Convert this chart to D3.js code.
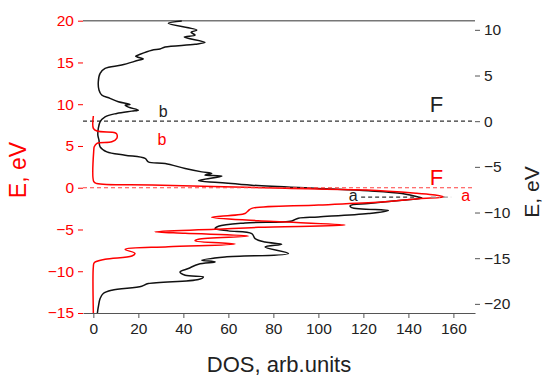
<!DOCTYPE html>
<html>
<head>
<meta charset="utf-8">
<script src="https://cdn.jsdelivr.net/npm/d3@7"></script>
<style>
  body { margin: 0; background: #fff; }
  svg { font-family: "Liberation Sans", Arial, sans-serif; }
</style>
</head>
<body>
<div id="main"></div>
<script>
// DOS curves, pairs of [E, DOS]
// red curve uses the left E axis, black curve the right E axis
const redCurve = [
  [8.59, 0], [7.11, 0], [6.79, 1.6], [6.59, 9.6], [6.43, 10.4], [5.92, 10.4], [5.51, 8.2],
  [5.32, 1.6], [4.91, 0.4], [4.51, 0.2], [0.72, 0.2], [0.50, 1.5], [0.32, 26.0], [-0.07, 85.2],
  [-0.28, 121.5], [-0.67, 143.7], [-0.87, 151.9], [-1.11, 155.9], [-1.32, 144.4], [-1.68, 129.6],
  [-2.07, 100], [-2.47, 70.4], [-2.73, 68.9], [-3.09, 67.4], [-3.54, 52.6], [-3.95, 73.3],
  [-4.47, 111.9], [-4.74, 73.3], [-4.98, 54.1], [-5.27, 27.4], [-5.46, 40.8], [-5.78, 68.9],
  [-6.18, 46.7], [-6.35, 45.2], [-6.74, 63.0], [-7.07, 33.3], [-7.38, 14.1], [-7.86, 18.5],
  [-8.18, 17.1], [-8.57, 5.2], [-8.98, 0.4], [-9.46, 0], [-15, 0]
];

const blackCurve = [
  [10.97, 39.3], [10.72, 33.3], [9.98, 46.0], [9.73, 43.4], [9.43, 45.2], [9.21, 40.4],
  [8.63, 49.6], [8.41, 45.2], [8.12, 31.9], [7.90, 29.6], [7.76, 26.0], [7.32, 20.8],
  [7.10, 18.8], [6.80, 22.2], [6.66, 20.0], [6.15, 12.6], [5.78, 5.2], [5.24, 3.0],
  [4.32, 2.2], [3.41, 2.5], [2.86, 3.7], [2.50, 7.4], [2.12, 11.1], [1.84, 16.3], [1.76, 14.1],
  [1.54, 15.6], [1.21, 20.0], [1.10, 17.1], [0.85, 10.4], [0.48, 5.2], [-0.07, 3.0],
  [-0.79, 2.2], [-1.53, 2.0], [-2.07, 2.5], [-2.81, 3.0], [-3.36, 6.0], [-3.72, 14.1],
  [-4.08, 23.0], [-4.45, 24.4], [-4.63, 31.9], [-5.18, 40.8], [-5.55, 48.2], [-5.72, 52.6],
  [-5.91, 49.6], [-6.02, 57.1], [-6.53, 46.7], [-6.71, 55.6], [-7.01, 70.4], [-7.37, 100],
  [-7.63, 122.2], [-7.92, 137.1], [-8.29, 144.4], [-8.43, 146.1], [-8.65, 137.1], [-9.01, 122.2],
  [-9.25, 114.1], [-9.47, 114.8], [-9.78, 131.1], [-10.11, 122.2], [-10.48, 100], [-10.62, 91.1],
  [-10.92, 88.2], [-11.14, 67.4], [-11.50, 55.6], [-11.75, 54.1], [-12.01, 60.0], [-12.30, 70.4],
  [-12.85, 71.9], [-13.22, 76.3], [-13.47, 83.7], [-13.77, 76.3], [-14.49, 86.7], [-14.86, 58.5],
  [-15.22, 48.2], [-15.41, 54.1], [-15.66, 46.7], [-16.13, 42.2], [-16.51, 38.5], [-16.87, 40.8],
  [-17.05, 48.9], [-17.34, 46.7], [-17.78, 24.4], [-18.07, 21.5], [-18.51, 8.2], [-18.87, 4.4],
  [-19.42, 3.0], [-20.34, 2.2], [-21.0, 1.8]
];

const dosTicks = [0, 20, 40, 60, 80, 100, 120, 140, 160];
const leftTicks = [-15, -10, -5, 0, 5, 10, 15, 20];
const rightTicks = [-20, -15, -10, -5, 0, 5, 10];

const W = 550, H = 382;
const plot = { left: 83, right: 475, top: 20.7, bottom: 313 };
const RED = "#ff0000";
const DARK = "#222";
const AXIS = "#555";

const svg = d3.select("#main").append("svg").attr("width", W).attr("height", H);

const x = d3.scaleLinear().domain([-4.6, 169.6]).range([plot.left, plot.right]);
const yL = d3.scaleLinear().domain([-15, 20]).range([plot.bottom, plot.top]);
const yR = d3.scaleLinear().domain([-21, 11]).range([plot.bottom, plot.top]);

// top frame line
svg.append("line")
  .attr("x1", plot.left).attr("x2", plot.right)
  .attr("y1", plot.top).attr("y2", plot.top)
  .attr("stroke", "#777").attr("stroke-width", 1.4);

function styleAxis(g, color) {
  g.select(".domain").attr("stroke", color).attr("stroke-width", 1.2);
  g.selectAll(".tick line").attr("stroke", color).attr("stroke-width", 1);
  g.selectAll(".tick text").attr("fill", color).style("font-size", "15.5px");
}

// bottom axis
const gx = svg.append("g").attr("transform", `translate(0,${plot.bottom})`);
gx.call(d3.axisBottom(x).tickValues(d3.range(10, 170, 20)).tickSize(3).tickFormat(""));
gx.call(d3.axisBottom(x).tickValues(dosTicks).tickSize(5).tickPadding(5).tickSizeOuter(0));
styleAxis(gx, AXIS);
gx.selectAll(".tick text").attr("fill", DARK);

// left axis (red)
const gl = svg.append("g").attr("transform", `translate(${plot.left},0)`);
gl.append("g").call(d3.axisLeft(yL).tickValues(d3.range(-12.5, 20, 5)).tickSize(3).tickFormat("").tickSizeOuter(0));
gl.call(d3.axisLeft(yL).tickValues(leftTicks).tickSize(5).tickPadding(4).tickSizeOuter(0));
styleAxis(gl, RED);
gl.selectAll("g g .domain").remove();

// right axis
const gr = svg.append("g").attr("transform", `translate(${plot.right},0)`);
gr.append("g").call(d3.axisRight(yR).tickValues(d3.range(-17.5, 11, 5)).tickSize(3).tickFormat("").tickSizeOuter(0));
gr.call(d3.axisRight(yR).tickValues(rightTicks).tickSize(5).tickPadding(4).tickSizeOuter(0));
styleAxis(gr, AXIS);
gr.selectAll(".tick text").attr("fill", DARK);
gr.selectAll("g g .domain").remove();

// axis titles
svg.append("text")
  .attr("transform", `translate(26,170) rotate(-90)`)
  .attr("text-anchor", "middle")
  .attr("fill", RED).style("font-size", "23px")
  .text("E, eV");

svg.append("text")
  .attr("transform", `translate(539,192) rotate(-90)`)
  .attr("text-anchor", "middle")
  .attr("fill", DARK).style("font-size", "21px")
  .text("E, eV");

svg.append("text")
  .attr("x", 279).attr("y", 372)
  .attr("text-anchor", "middle")
  .attr("fill", DARK).style("font-size", "22px")
  .text("DOS, arb.units");

// Fermi level of the black curve
svg.append("line")
  .attr("x1", plot.left).attr("x2", plot.right)
  .attr("y1", yR(0)).attr("y2", yR(0))
  .attr("stroke", "#333").attr("stroke-width", 1.2)
  .attr("stroke-dasharray", "4,3");

// curves
const lineRed = d3.line().x(d => x(d[1])).y(d => yL(d[0])).curve(d3.curveCatmullRom.alpha(0.5));
const lineBlack = d3.line().x(d => x(d[1])).y(d => yR(d[0])).curve(d3.curveCatmullRom.alpha(0.5));

svg.append("path").datum(blackCurve)
  .attr("d", lineBlack).attr("fill", "none")
  .attr("stroke", "#111").attr("stroke-width", 1.5);

svg.append("path").datum(redCurve)
  .attr("d", lineRed).attr("fill", "none")
  .attr("stroke", RED).attr("stroke-width", 1.5);

// Fermi level of the red curve
svg.append("line")
  .attr("x1", plot.left).attr("x2", plot.right)
  .attr("y1", yL(0)).attr("y2", yL(0))
  .attr("stroke", "#ff4040").attr("stroke-width", 1.2)
  .attr("stroke-dasharray", "4,3");

// peak "a" guides
svg.append("line")
  .attr("x1", x(119)).attr("x2", x(143))
  .attr("y1", yL(-1.12)).attr("y2", yL(-1.12))
  .attr("stroke", "#333").attr("stroke-width", 1.2)
  .attr("stroke-dasharray", "4,3");
svg.append("line")
  .attr("x1", x(150)).attr("x2", x(159))
  .attr("y1", yL(-1.12)).attr("y2", yL(-1.12))
  .attr("stroke", "#999").attr("stroke-width", 1.2)
  .attr("stroke-dasharray", "5,3,1,3");

// labels
function label(px, py, txt, color, size) {
  svg.append("text")
    .attr("x", px).attr("y", py)
    .attr("text-anchor", "middle")
    .attr("fill", color).style("font-size", size + "px")
    .text(txt);
}
label(x(152.5), yR(0) - 9, "F", DARK, 22);
label(x(152.5), yL(0) - 3, "F", RED, 22);
label(x(31), yR(0) - 4, "b", DARK, 16);
label(x(30.5), yL(5.1), "b", RED, 16);
label(x(115.5), yL(-1.6), "a", DARK, 16);
label(x(165.5), yL(-1.6), "a", RED, 16);
</script>
</body>
</html>
